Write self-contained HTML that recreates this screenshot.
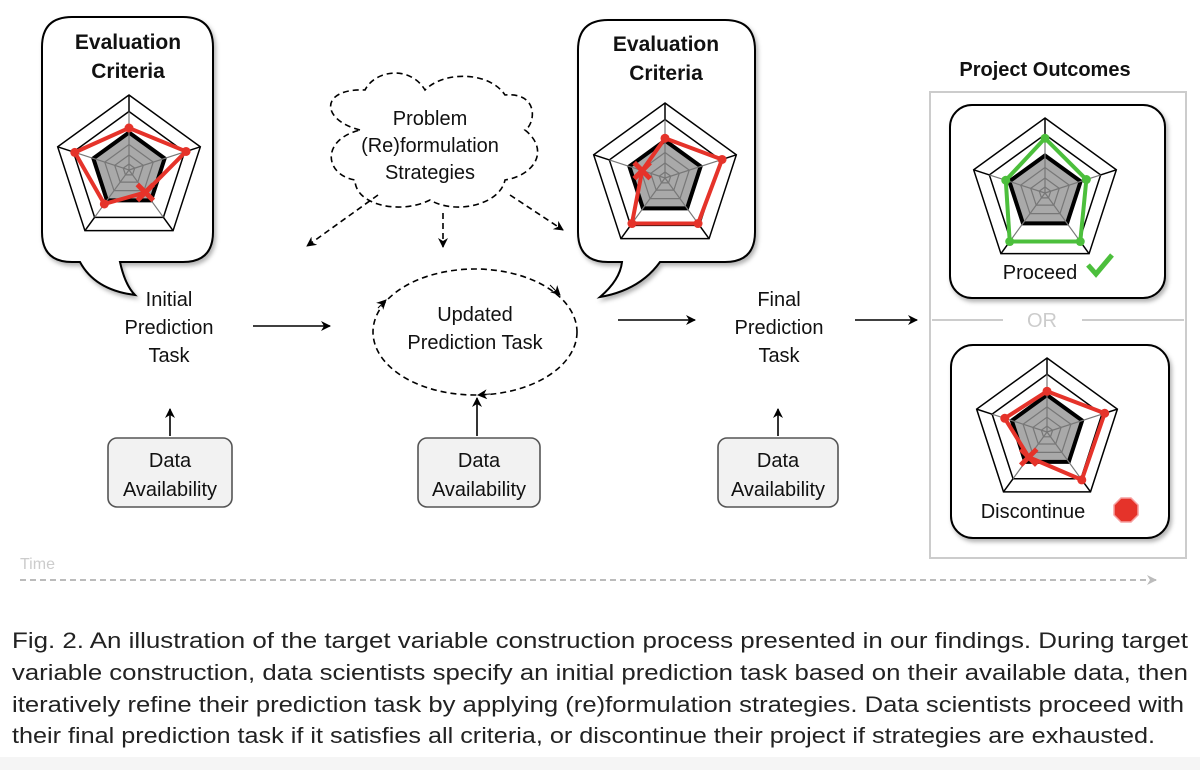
<!DOCTYPE html>
<html><head><meta charset="utf-8"><style>
body{margin:0;background:#fff;width:1200px;height:770px;overflow:hidden}
svg{display:block}
.t{font-family:"Liberation Sans",sans-serif;font-size:20px;fill:#111;text-anchor:middle}
.b{font-weight:bold}
.c{font-family:"Liberation Sans",sans-serif;font-size:22px;fill:#222}
</style></head><body>
<svg id="s" width="1200" height="770" viewBox="0 0 1200 770">
<defs>
<marker id="a" markerWidth="10" markerHeight="10" refX="9" refY="5" orient="auto" markerUnits="userSpaceOnUse"><path d="M0,0 L10,5 L0,10 L3,5 z" fill="#000"/></marker>
<marker id="ag" markerWidth="10" markerHeight="10" refX="9" refY="5" orient="auto" markerUnits="userSpaceOnUse"><path d="M0,0 L10,5 L0,10 L3,5 z" fill="#bbb"/></marker>
<filter id="sh" x="-10%" y="-10%" width="130%" height="130%"><feDropShadow dx="2" dy="3" stdDeviation="2" flood-color="#000" flood-opacity="0.3"/></filter>
</defs>
<rect x="0" y="757" width="1200" height="13" fill="#f5f5f5"/>
<path filter="url(#sh)" d="M72,17 H183 Q213,17 213,47 V232 Q213,262 183,262 H120 Q125,285 135,295 Q95,290 80,262 H72 Q42,262 42,232 V47 Q42,17 72,17 Z" fill="#fff" stroke="#000" stroke-width="2"/>
<text class="t b" x="128" y="49" style="font-size:21px">Evaluation</text>
<text class="t b" x="128" y="78" style="font-size:21px">Criteria</text>
<path filter="url(#sh)" d="M608,20 H725 Q755,20 755,50 V232 Q755,262 725,262 H660 Q640,290 600,297 Q620,280 622,262 H608 Q578,262 578,232 V50 Q578,20 608,20 Z" fill="#fff" stroke="#000" stroke-width="2"/>
<text class="t b" x="666" y="51" style="font-size:21px">Evaluation</text>
<text class="t b" x="666" y="80" style="font-size:21px">Criteria</text>
<text class="t b" x="1045" y="76">Project Outcomes</text>
<rect x="930" y="92" width="256" height="466" fill="none" stroke="#ccc" stroke-width="2"/>
<line x1="932" y1="320" x2="1003" y2="320" stroke="#ccc" stroke-width="2"/>
<line x1="1082" y1="320" x2="1184" y2="320" stroke="#ccc" stroke-width="2"/>
<text class="t" x="1042" y="327" style="fill:#ccc">OR</text>
<rect filter="url(#sh)" x="950" y="105" width="215" height="193" rx="22" fill="#fff" stroke="#000" stroke-width="2"/>
<rect filter="url(#sh)" x="951" y="345" width="218" height="193" rx="22" fill="#fff" stroke="#000" stroke-width="2"/>
<text class="t" x="1040" y="279">Proceed</text>
<path d="M1088,265 L1096,274 L1112,255" fill="none" stroke="#4cbf3c" stroke-width="5"/>
<text class="t" x="1033" y="518">Discontinue</text>
<polygon id="oct" fill="#e5332a" stroke="#f6a0a0" stroke-width="1.5"/>
<g id="radars"></g>
<path d="M360,130 C320,120 320,88 365,90 C375,70 410,65 425,90 C445,70 490,72 505,95 C540,92 535,125 525,130 C550,150 535,175 505,180 C500,205 455,215 430,200 C400,215 355,205 355,180 C325,175 320,140 360,130 Z" fill="none" stroke="#000" stroke-width="1.6" stroke-dasharray="6,4"/>
<text class="t" x="430" y="125">Problem</text>
<text class="t" x="430" y="152">(Re)formulation</text>
<text class="t" x="430" y="179">Strategies</text>
<path d="M378,195 L307,246" stroke="#000" stroke-width="1.6" stroke-dasharray="6,4" marker-end="url(#a)" fill="none"/>
<path d="M443,213 V247" stroke="#000" stroke-width="1.6" stroke-dasharray="6,4" marker-end="url(#a)" fill="none"/>
<path d="M510,195 L563,230" stroke="#000" stroke-width="1.6" stroke-dasharray="6,4" marker-end="url(#a)" fill="none"/>
<ellipse cx="475" cy="332" rx="102" ry="63" fill="none" stroke="#000" stroke-width="1.6" stroke-dasharray="6,4"/>
<path d="M378,308 L386,300" stroke="#000" marker-end="url(#a)"/>
<path d="M550,285 L560,295" stroke="#000" marker-end="url(#a)"/>
<path d="M490,394 L478,395" stroke="#000" marker-end="url(#a)"/>
<text class="t" x="475" y="321">Updated</text>
<text class="t" x="475" y="349">Prediction Task</text>
<text class="t" x="169" y="306">Initial</text>
<text class="t" x="169" y="334">Prediction</text>
<text class="t" x="169" y="362">Task</text>
<text class="t" x="779" y="306">Final</text>
<text class="t" x="779" y="334">Prediction</text>
<text class="t" x="779" y="362">Task</text>
<path d="M253,326 H330" stroke="#000" stroke-width="1.6" marker-end="url(#a)"/>
<path d="M618,320 H695" stroke="#000" stroke-width="1.6" marker-end="url(#a)"/>
<path d="M855,320 H917" stroke="#000" stroke-width="1.6" marker-end="url(#a)"/>
<rect x="108" y="438" width="124" height="69" rx="9" fill="#f2f2f2" stroke="#555" stroke-width="1.6"/>
<text class="t" x="170" y="467">Data</text><text class="t" x="170" y="496">Availability</text>
<path d="M170,436 V409" stroke="#000" stroke-width="1.6" marker-end="url(#a)"/>
<rect x="418" y="438" width="122" height="69" rx="9" fill="#f2f2f2" stroke="#555" stroke-width="1.6"/>
<text class="t" x="479" y="467">Data</text><text class="t" x="479" y="496">Availability</text>
<path d="M477,436 V398" stroke="#000" stroke-width="1.6" marker-end="url(#a)"/>
<rect x="718" y="438" width="120" height="69" rx="9" fill="#f2f2f2" stroke="#555" stroke-width="1.6"/>
<text class="t" x="778" y="467">Data</text><text class="t" x="778" y="496">Availability</text>
<path d="M778,436 V409" stroke="#000" stroke-width="1.6" marker-end="url(#a)"/>
<text x="20" y="569" style="font-family:'Liberation Sans',sans-serif;font-size:16px;fill:#ccc">Time</text>
<path d="M20,580 H1156" stroke="#bbb" stroke-width="2" stroke-dasharray="6,4" marker-end="url(#ag)"/>
<text class="c" x="12" y="648" textLength="1176" lengthAdjust="spacingAndGlyphs">Fig. 2.  An illustration of the target variable construction process presented in our findings. During target</text>
<text class="c" x="12" y="680" textLength="1176" lengthAdjust="spacingAndGlyphs">variable construction, data scientists specify an initial prediction task based on their available data, then</text>
<text class="c" x="12" y="712" textLength="1172" lengthAdjust="spacingAndGlyphs">iteratively refine their prediction task by applying (re)formulation strategies. Data scientists proceed with</text>
<text class="c" x="12" y="743" textLength="1143" lengthAdjust="spacingAndGlyphs">their final prediction task if it satisfies all criteria, or discontinue their project if strategies are exhausted.</text>
</svg>
<script>
var NS="http://www.w3.org/2000/svg",g=document.getElementById("radars");
function el(t,a){var e=document.createElementNS(NS,t);for(var k in a)e.setAttribute(k,a[k]);g.appendChild(e);return e;}
function pt(cx,cy,r,i){var a=(-90+72*i)*Math.PI/180;return [cx+r*Math.cos(a),cy+r*Math.sin(a)];}
function poly(cx,cy,r){var s=[];for(var i=0;i<5;i++)s.push(pt(cx,cy,r,i).join(","));return s.join(" ");}
function radar(cx,cy,R,col,vals,xi){
 el("polygon",{points:poly(cx,cy,R),fill:"#fff",stroke:"#000","stroke-width":1.5});
 el("polygon",{points:poly(cx,cy,R*0.78),fill:"none",stroke:"#000","stroke-width":1.5});
 for(var i=0;i<5;i++){var p=pt(cx,cy,R,i),q=pt(cx,cy,R*0.78,i);el("line",{x1:p[0],y1:p[1],x2:q[0],y2:q[1],stroke:"#000","stroke-width":1.5});}
 el("polygon",{points:poly(cx,cy,R*0.5),fill:"#a9a9a9",stroke:"#000","stroke-width":4});
 [0.34,0.2,0.08].forEach(function(f){el("polygon",{points:poly(cx,cy,R*f),fill:"none",stroke:"#777","stroke-width":1.2});});
 for(var i=0;i<5;i++){var p=pt(cx,cy,R*0.78,i);el("line",{x1:cx,y1:cy,x2:p[0],y2:p[1],stroke:"#777","stroke-width":1.2});}
 var s=[];for(var i=0;i<5;i++)s.push(pt(cx,cy,R*vals[i],i).join(","));
 el("polygon",{points:s.join(" "),fill:"none",stroke:col,"stroke-width":4,"stroke-linejoin":"round"});
 for(var i=0;i<5;i++){var p=pt(cx,cy,R*vals[i],i);
  if(i===xi){var d=8;el("path",{d:"M"+(p[0]-d)+","+(p[1]-d)+"L"+(p[0]+d)+","+(p[1]+d)+"M"+(p[0]+d)+","+(p[1]-d)+"L"+(p[0]-d)+","+(p[1]+d),stroke:col,"stroke-width":5});}
  else el("circle",{cx:p[0],cy:p[1],r:4.5,fill:col});}
}
var R="#e5332a",G="#4cbf3c";
radar(129,170,75,R,[0.56,0.8,0.37,0.56,0.76],2);
radar(665,178,75,R,[0.53,0.8,0.75,0.75,0.32],4);
radar(1045,193,75,G,[0.73,0.58,0.8,0.8,0.55],-1);
radar(1047,432,74,R,[0.55,0.82,0.8,0.42,0.6],3);
var o=[];for(var i=0;i<8;i++){var a=(22.5+45*i)*Math.PI/180;o.push((1126+13*Math.cos(a))+","+(510+13*Math.sin(a)));}
document.getElementById("oct").setAttribute("points",o.join(" "));
</script>
</body></html>
